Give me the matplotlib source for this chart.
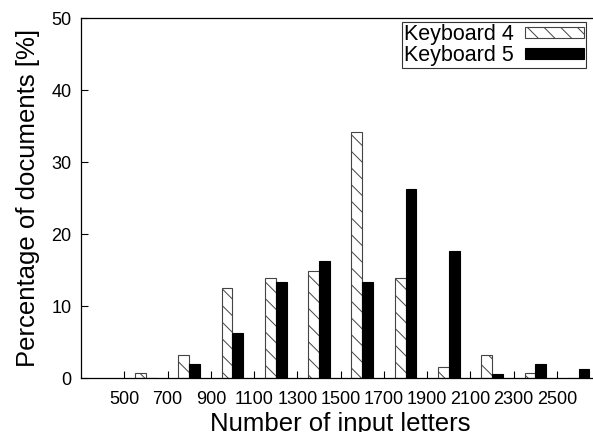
import matplotlib.pyplot as plt
import numpy as np

plt.rcParams['font.family'] = ['Liberation Sans', 'DejaVu Sans']
plt.rcParams['hatch.linewidth'] = 0.7

# letter-count bins (centre of each pair of bars)
bins = [600, 800, 1000, 1200, 1400, 1600, 1800, 2000, 2200, 2400, 2600]
keyboard4 = [0.8, 3.2, 12.5, 14.0, 14.9, 34.2, 14.0, 1.6, 3.2, 0.8, 0.0]
keyboard5 = [0.0, 2.0, 6.3, 13.4, 16.3, 13.4, 26.3, 17.7, 0.6, 2.0, 1.3]
xticks = [500, 700, 900, 1100, 1300, 1500, 1700, 1900, 2100, 2300, 2500]

fig = plt.figure(figsize=(5.93, 4.32), dpi=100)
ax = fig.add_axes([0.1366, 0.1243, 0.8757, 0.8333])

x = np.array(bins)
w = 50
ax.bar(x - w / 2, keyboard4, width=w, color='white', edgecolor='#444444',
       hatch='\\\\', linewidth=0.8, label='Keyboard 4')
ax.bar(x + w / 2, keyboard5, width=w, color='black', edgecolor='black',
       linewidth=0.8, label='Keyboard 5')

ax.set_xlim(300, 2700)
ax.set_ylim(0, 50)
ax.set_xticks(xticks)
ax.set_yticks([0, 10, 20, 30, 40, 50])
ax.tick_params(direction='in', length=5, width=0.8, labelsize=13)
ax.tick_params(axis='x', pad=9)
ax.tick_params(axis='y', pad=7)
for s in ax.spines.values():
    s.set_linewidth(0.9)

ax.set_xlabel('Number of input letters', fontsize=18.5, labelpad=3)
ax.set_ylabel('Percentage of documents [%]', fontsize=18.5, labelpad=8)

leg = ax.legend(loc='upper right', bbox_to_anchor=(586 / 593, 1 - 22 / 432),
                bbox_transform=fig.transFigure, fontsize=15.5,
                markerfirst=False, handlelength=2.75, handleheight=0.35,
                fancybox=False, framealpha=1, edgecolor='#333333',
                borderpad=0.1, labelspacing=0.0, handletextpad=0.5,
                borderaxespad=0)
leg.get_frame().set_linewidth(0.8)

fig.savefig('out.png', dpi=100)
